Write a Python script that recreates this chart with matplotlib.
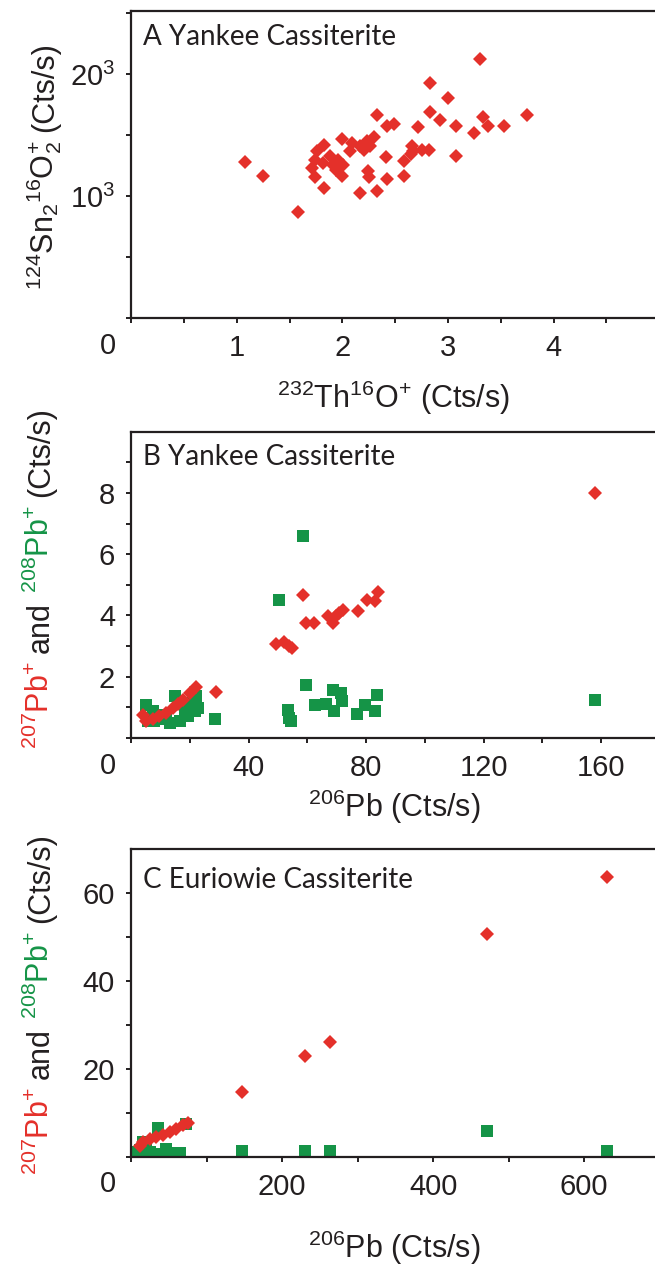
import numpy as np
import matplotlib
matplotlib.use('Agg')
import matplotlib.pyplot as plt
from matplotlib.transforms import IdentityTransform

plt.rcParams['font.family'] = 'Liberation Sans'
plt.rcParams['mathtext.fontset'] = 'custom'
plt.rcParams['mathtext.rm'] = 'Liberation Sans'
plt.rcParams['mathtext.it'] = 'Liberation Sans:italic'
plt.rcParams['mathtext.bf'] = 'Liberation Sans:bold'

rouge = '#e4302a'
vert = '#159447'
noir = '#231f20'

# A : 232Th16O+ vs 124Sn2 16O2+
thA = [3.30, 2.83, 3.00, 3.75, 2.33, 2.83, 2.92, 2.42, 2.49, 2.72, 3.08, 3.33, 3.38,
       3.53, 3.25, 3.08, 1.08, 1.25, 1.58,
       1.83, 1.76, 1.74, 1.82, 1.74, 1.83, 1.91, 2.00, 2.01, 2.00, 2.07, 2.09, 2.17,
       2.23, 2.30, 2.26, 2.17, 2.24, 2.25, 2.33, 2.41, 2.42, 2.58, 2.58, 2.66, 2.67,
       2.75, 2.82, 2.65, 1.88, 1.96, 2.20, 1.71, 1.94]
snA = [21.3, 19.3, 18.1, 16.7, 16.7, 16.9, 16.3, 15.8, 15.9, 15.7, 15.8, 16.5, 15.8,
       15.8, 15.2, 13.3, 12.8, 11.7, 8.7,
       14.2, 13.7, 13.0, 12.7, 11.6, 10.7, 12.6, 14.7, 12.6, 11.7, 13.7, 14.4, 14.1,
       14.5, 14.9, 14.1, 10.3, 12.1, 11.6, 10.4, 13.2, 11.4, 12.9, 11.7, 14.1, 13.7,
       13.8, 13.8, 13.5, 13.3, 13.0, 13.8, 12.3, 12.2]

# B : Yankee, 206Pb vs 207Pb (rouge) et 208Pb (vert)
pb206_B7 = [158, 58.5, 49.4, 51.9, 53.7, 54.8, 59.6, 62.4, 67.0, 68.9, 70.9, 72.1, 69.8,
            77.2, 80.3, 82.9, 84.0, 28.9, 22.1, 19.9, 17.6, 14.2, 11.9, 9.6, 5.1, 4.0,
            15.8, 7.5]
pb207_B = [8.0, 4.67, 3.08, 3.12, 3.01, 2.93, 3.77, 3.77, 3.97, 3.77, 4.08, 4.18, 3.97,
           4.16, 4.49, 4.46, 4.76, 1.49, 1.66, 1.47, 1.25, 0.98, 0.82, 0.71, 0.54, 0.76,
           1.12, 0.62]
pb206_B8 = [158, 58.5, 50.2, 59.6, 62.7, 66.4, 68.9, 69.2, 71.5, 71.7, 76.9, 79.5, 82.9,
            83.7, 53.3, 53.9, 54.5, 5.1, 7.4, 5.7, 7.9, 13.1, 14.8, 18.7, 19.3, 21.6,
            22.1, 22.7, 18.2, 28.7, 10.8, 16.5, 12.0]
pb208_B = [1.24, 6.60, 4.51, 1.72, 1.09, 1.12, 1.58, 0.87, 1.47, 1.20, 0.79, 1.09, 0.87,
           1.41, 0.92, 0.65, 0.54, 1.09, 0.87, 0.54, 0.54, 0.49, 1.36, 1.14, 0.71, 0.87,
           1.36, 0.98, 0.87, 0.62, 0.76, 0.55, 0.62]

# C : Euriowie
pb206_C7 = [630, 470.8, 263, 230.8, 147.2, 11, 15.5, 24.3, 33.2, 42, 50.8, 59.7, 68.5, 75.2]
pb207_C = [63.6, 50.6, 26.2, 22.8, 14.7, 2.5, 3.3, 4.0, 4.4, 4.8, 5.6, 6.3, 7.1, 7.6]
pb206_C8 = [630, 470.8, 147.2, 230.8, 263, 35.4, 73, 15.5, 11.1, 24.3, 37.6, 50.8, 64.1,
            19.9, 33.2, 6.6, 46.4]
pb208_C = [1.3, 5.9, 1.2, 1.2, 1.2, 6.5, 7.5, 3.3, 1.4, 1.0, 0.6, 0.8, 0.8, 1.75, 0.3,
           1.0, 1.75]

W, H = 655., 1275.
fig = plt.figure(figsize=(W / 100, H / 100), dpi=100)
taille = 21      # graduations
taille_lab = 22  # titres d'axes
gauche = 131.2


def cadre(haut, bas, xmax, xpas, xlabs, ymax, ypas, ylabs):
    ax = fig.add_axes([gauche / W, 1 - bas / H, 1 - gauche / W, (bas - haut) / H])
    ax.set_xlim(0, xmax)
    ax.set_ylim(0, ymax)
    xt = np.arange(0, xmax, xpas)
    yt = np.arange(0, ymax, ypas)
    ax.set_xticks(xt)
    ax.set_xticklabels([xlabs.get(round(v, 3), '') for v in xt])
    ax.set_yticks(yt)
    ax.set_yticklabels([ylabs.get(round(v, 3), '') for v in yt])
    ax.spines['right'].set_visible(False)
    for s in ['left', 'top', 'bottom']:
        ax.spines[s].set_linewidth(1.6)
        ax.spines[s].set_color(noir)
    ax.tick_params(direction='out', length=3.6, width=1.4, pad=8,
                   labelsize=taille, colors=noir)
    ax.annotate('0', xy=(0, 0), xycoords='axes fraction', xytext=(-23, -28),
                textcoords='offset pixels', ha='center', va='center',
                fontsize=taille, color=noir)
    return ax


def label_y(x_px, yc_px, morceaux):
    r = fig.canvas.get_renderer()
    ts = [fig.text(0, 0, s, color=c, fontsize=taille_lab, rotation=90,
                   rotation_mode='anchor', ha='left', va='baseline',
                   transform=IdentityTransform()) for s, c in morceaux]
    hs = [t.get_window_extent(r).height for t in ts]
    gap = 0.28 * taille_lab * 100 / 72
    tot = sum(hs) + gap * (len(ts) - 1)
    y = (H - yc_px) - tot / 2
    for t, h in zip(ts, hs):
        t.set_position((x_px, y))
        y += h + gap


# --- A
axA = cadre(11, 318.3, 4.96, 0.5, {1.0: '1', 2.0: '2', 3.0: '3', 4.0: '4'},
            25.2, 5, {10: r'$10^3$', 20: r'$20^3$'})
axA.plot(thA, snA, 'D', color=rouge, ms=7.6, mew=0)
fig.text(143 / W, 1 - 45 / H, 'A Yankee Cassiterite', fontfamily='Lato',
         fontsize=20, color=noir, va='baseline')
fig.text(394 / W, 1 - 408 / H, r'$^{232}$Th$^{16}$O$^{+}$ (Cts/s)', fontsize=taille_lab,
         ha='center', va='baseline', color=noir)
label_y(53, 166, [(r'$^{124}$Sn$_2{}^{16}$O$_2^{+}$', noir), ('(Cts/s)', noir)])

# --- B
axB = cadre(431.7, 738, 178.4, 20, {40: '40', 80: '80', 120: '120', 160: '160'},
            10, 1, {2: '2', 4: '4', 6: '6', 8: '8'})
axB.plot(pb206_B8, pb208_B, 's', color=vert, ms=8.4, mew=0)
axB.plot(pb206_B7, pb207_B, 'D', color=rouge, ms=7.6, mew=0)
fig.text(143 / W, 1 - 465 / H, 'B Yankee Cassiterite', fontfamily='Lato',
         fontsize=20, color=noir, va='baseline')
fig.text(394 / W, 1 - 817 / H, r'$^{206}$Pb (Cts/s)', fontsize=taille_lab,
         ha='center', va='baseline', color=noir)
label_y(49, 578, [(r'$^{207}$Pb$^{+}$', rouge), ('and', noir),
                  (r'$^{208}$Pb$^{+}$', vert), ('(Cts/s)', noir)])

# --- C
axC = cadre(849.3, 1156.5, 694, 100, {200: '200', 400: '400', 600: '600'},
            70, 10, {20: '20', 40: '40', 60: '60'})
axC.plot(pb206_C8, pb208_C, 's', color=vert, ms=8.4, mew=0)
axC.plot(pb206_C7, pb207_C, 'D', color=rouge, ms=7.6, mew=0)
fig.text(143 / W, 1 - 888 / H, 'C Euriowie Cassiterite', fontfamily='Lato',
         fontsize=20, color=noir, va='baseline')
fig.text(394 / W, 1 - 1258 / H, r'$^{206}$Pb (Cts/s)', fontsize=taille_lab,
         ha='center', va='baseline', color=noir)
label_y(49, 1004, [(r'$^{207}$Pb$^{+}$', rouge), ('and', noir),
                   (r'$^{208}$Pb$^{+}$', vert), ('(Cts/s)', noir)])

fig.savefig('out.png', dpi=100)
